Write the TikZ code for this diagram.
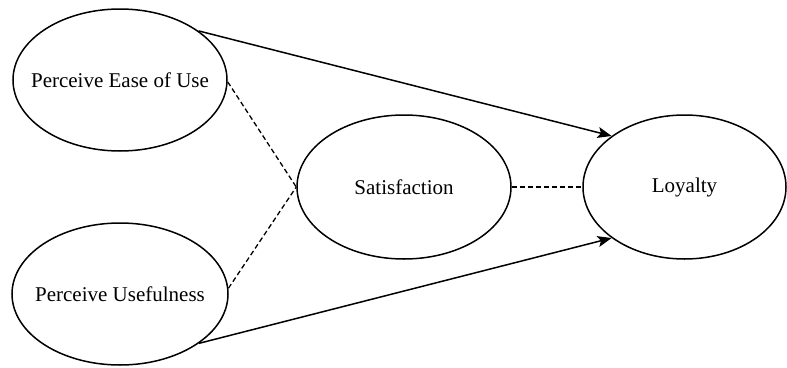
\documentclass[tikz,border=0pt]{standalone}
\usepackage{fontspec}
\setmainfont{Liberation Serif}
\usetikzlibrary{shapes.geometric,arrows.meta}
\begin{document}
\begin{tikzpicture}[x=1pt,y=-1pt,
  construct/.style={draw,ellipse,line width=1.5pt,inner xsep=-45pt,inner ysep=0pt,font=\fontsize{21}{24}\selectfont},
  effect/.style={line width=1.5pt,-{Stealth[length=14pt,width=11pt,inset=3pt]}},
  link/.style={line width=1.3pt,dash pattern=on 5pt off 3pt}]
\useasboundingbox (0,0) rectangle (787,367);
\node[construct,minimum width=214pt,minimum height=142pt] (peou) at (120,80) {Perceive Ease of Use};
\node[construct,minimum width=216pt,minimum height=142pt] (pu) at (120,294) {Perceive Usefulness};
\node[construct,minimum width=214pt,minimum height=144pt] (sat) at (404,187) {Satisfaction};
\node[construct,minimum width=203pt,minimum height=144pt] (loy) at (684.5,187) {Loyalty};
\draw[effect] (peou.32) -- (loy.145);
\draw[effect] (pu.-32) -- (loy.215);
\draw[link] (peou.-1) -- (sat.west);
\draw[link] (pu.3) -- (sat.west);
\draw[link] (sat.east) -- (loy.west);
\end{tikzpicture}
\end{document}
